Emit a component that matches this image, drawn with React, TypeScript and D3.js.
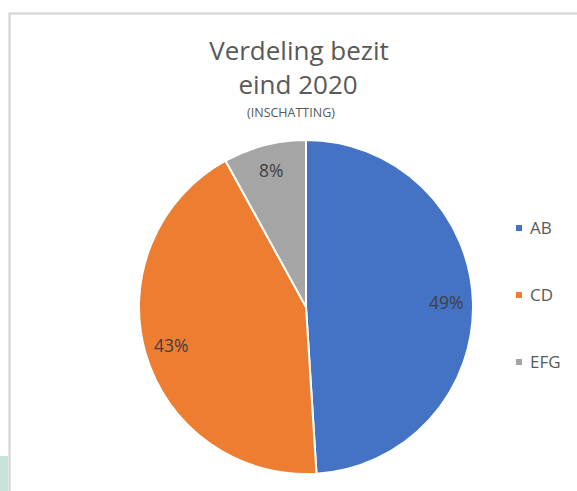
import React from "react";
import * as d3 from "d3";

const categories = ["AB", "CD", "EFG"];
const shares = [49, 43, 8];
const colors = ["#4472C4", "#ED7D31", "#A5A5A5"];

const titleLines = ["Verdeling bezit", "eind 2020"];
const subtitle = "(INSCHATTING)";

const App = () => {
  const width = 577;
  const height = 491;
  const cx = 306;
  const cy = 307;
  const radius = 167;
  const font = "'Open Sans', 'Noto Sans', sans-serif";

  const pie = d3
    .pie<number>()
    .sort(null)
    .value((d) => d);
  const slices = pie(shares);

  const arc = d3.arc<d3.PieArcDatum<number>>().innerRadius(0).outerRadius(radius);
  // labels sit well inside the slices, like Excel's "best fit"
  const labelArc = d3
    .arc<d3.PieArcDatum<number>>()
    .innerRadius(radius * 0.84)
    .outerRadius(radius * 0.84);

  // legend rows
  const legendY = d3.scalePoint<string>().domain(categories).range([228, 362]);

  return (
    <svg
      width={width}
      height={height}
      style={{ position: "absolute", left: 0, top: 0, background: "#fff" }}
    >
      {/* bit of the page behind */}
      <rect x={0} y={456} width={8} height={40} fill="#C9E3DC" />
      <rect x={9.5} y={13.5} width={640} height={540} fill="#fff" stroke="#D9D9D9" strokeWidth={2.5} />

      <g fontFamily={font} fill="#595959" textAnchor="middle">
        <text x={299} y={60} fontSize={26}>
          {titleLines[0]}
        </text>
        <text x={298} y={94} fontSize={26}>
          {titleLines[1]}
        </text>
        <text x={291} y={117} fontSize={12.5}>
          {subtitle}
        </text>
      </g>

      <g transform={`translate(${cx},${cy})`}>
        {slices.map((s, i) => (
          <path key={categories[i]} d={arc(s) ?? ""} fill={colors[i]} stroke="#fff" strokeWidth={2} />
        ))}
        {slices.map((s, i) => {
          const [x, y] = labelArc.centroid(s);
          return (
            <text
              key={"l" + categories[i]}
              x={x}
              y={y}
              dy="0.35em"
              textAnchor="middle"
              fontFamily={font}
              fontSize={17.5}
              fill="#404040"
            >
              {s.data}%
            </text>
          );
        })}
      </g>

      <g fontFamily={font} fontSize={17} fill="#595959">
        {categories.map((c, i) => (
          <g key={c} transform={`translate(516,${legendY(c)})`}>
            <rect x={0} y={-3} width={6} height={6} fill={colors[i]} />
            <text x={14} y={0} dy="0.35em">
              {c}
            </text>
          </g>
        ))}
      </g>
    </svg>
  );
};

export default App;
